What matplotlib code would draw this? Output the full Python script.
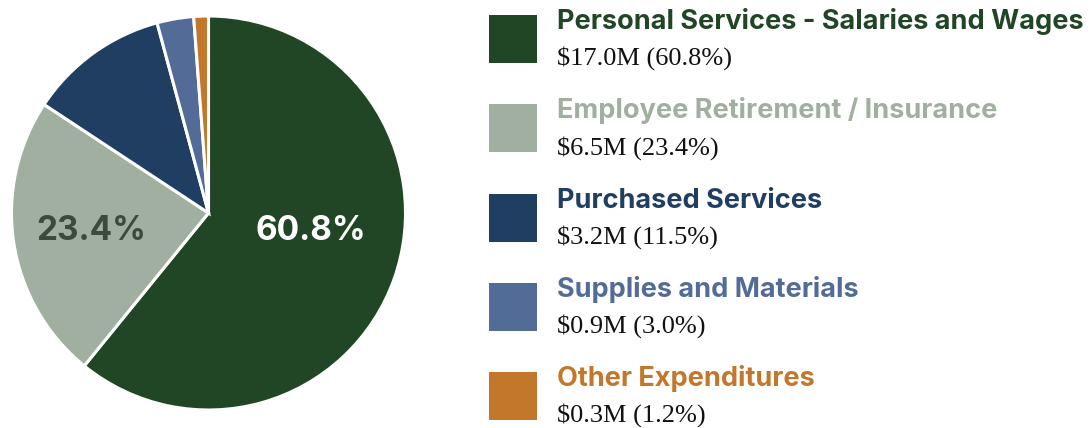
import matplotlib

matplotlib.use('Agg')
import matplotlib.pyplot as plt
import numpy as np
from matplotlib.patches import Rectangle

CATEGORIES = [
    "Personal Services - Salaries and Wages",
    "Employee Retirement / Insurance",
    "Purchased Services",
    "Supplies and Materials",
    "Other Expenditures",
]
AMOUNTS_M = [17.0, 6.5, 3.2, 0.9, 0.3]
PERCENTS = [60.8, 23.4, 11.5, 3.0, 1.2]
COLORS = ["#214625", "#a1afa0", "#203d62", "#536b97", "#c3772a"]
PIE_LABELS = ["60.8%", "23.4%", "", "", ""]
LABEL_COLORS = ["white", "#3b4a3d", "white", "white", "white"]

W, H = 1091, 428
fig = plt.figure(figsize=(W / 100, H / 100), dpi=100)

# pie: centre ~ (208.5, 213) px, radius ~197 px
cx, cy, r = 208.5, 213, 197
ax = fig.add_axes([(cx - r) / W, (H - cy - r) / H, 2 * r / W, 2 * r / H])
ax.pie(PERCENTS, colors=COLORS, startangle=90, counterclock=False,
       wedgeprops=dict(edgecolor="white", linewidth=2.2))
ax.set_xlim(-1, 1)
ax.set_ylim(-1, 1)
ax.set_aspect("equal")
ax.axis("off")

# labels on the two biggest slices (radius, angle nudge in degrees)
label_place = [(0.53, 9.5), (0.6, 0.0)]
start = 90.0
for i, (pct, lab, col) in enumerate(zip(PERCENTS, PIE_LABELS, LABEL_COLORS)):
    span = 360.0 * pct / sum(PERCENTS)
    mid = start - span / 2
    start -= span
    if lab:
        rr, nudge = label_place[i]
        a = np.deg2rad(mid + nudge)
        ax.text(rr * np.cos(a), rr * np.sin(a), lab, color=col,
                ha="center", va="center", fontsize=24, fontweight="bold",
                family="Inter")

# legend on the right, pixel coordinates
lg = fig.add_axes([0, 0, 1, 1])
lg.set_xlim(0, W)
lg.set_ylim(H, 0)
lg.axis("off")
lg.patch.set_alpha(0)

row_h = 89.25
for i, (cat, amt, pct, col) in enumerate(zip(CATEGORIES, AMOUNTS_M, PERCENTS, COLORS)):
    top = 15 + i * row_h
    lg.add_patch(Rectangle((488.5, top), 48, 48, facecolor=col, edgecolor="none"))
    lg.text(557, top + 14, cat, color=col, fontsize=19.5, fontweight="bold",
            family="Inter", ha="left", va="baseline")
    lg.text(557, top + 50, f"${amt:.1f}M ({pct:.1f}%)", color="#111111",
            fontsize=19, family="Liberation Serif", ha="left", va="baseline")

fig.savefig("out.png", dpi=100)
